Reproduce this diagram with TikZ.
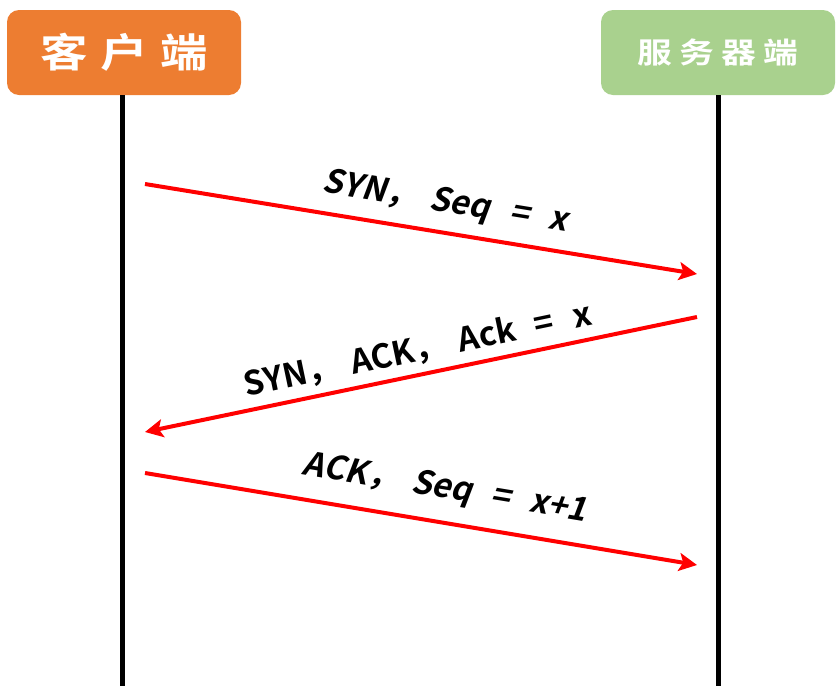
\documentclass[tikz,border=0pt]{standalone}
\usepackage{fontspec}
\setmainfont{Noto Sans CJK SC}[BoldFont=* Bold]
\newfontfamily\lblfont{Noto Sans CJK SC}[UprightFont=* Bold]
\newfontfamily\lblit{Noto Sans CJK SC}[UprightFont=* Bold,FakeSlant=0.2]
\usetikzlibrary{arrows.meta}
\definecolor{boxorange}{HTML}{ED7D31}
\definecolor{boxgreen}{HTML}{A9D18E}
\definecolor{arrred}{HTML}{FF0000}
\newcommand{\eqsp}{\hspace{0.6em}=\hspace{0.6em}}
\newcommand{\cmsp}{，\hspace{0.35em}}
\tikzset{
  headbox/.style={rounded corners=12pt, minimum width=234pt, minimum height=85pt, inner sep=0pt, text=white, font=\bfseries},
  lifeline/.style={line width=5pt, black},
  msg/.style={line width=4pt, arrred, -{Stealth[length=18pt,width=18pt,inset=4pt]}},
  msglabel/.style={inner sep=0pt, font=\lblfont\fontsize{33}{36}\selectfont},
  msglabelit/.style={inner sep=0pt, font=\lblit\fontsize{33}{36}\selectfont},
}
\begin{document}
\begin{tikzpicture}[x=1pt,y=-1pt]
\useasboundingbox (0,0) rectangle (836,686);
\node[headbox, fill=boxorange] (client) at (124,52.5) {\scalebox{1.25}[1.05]{\fontsize{38}{40}\selectfont 客\hspace{10pt}户\hspace{10pt}端}};
\node[headbox, fill=boxgreen] (server) at (718,52.5) {\scalebox{1.2}[1]{\fontsize{29}{32}\selectfont 服\hspace{6pt}务\hspace{6pt}器\hspace{6pt}端}};
\coordinate (cb) at (122,686);
\coordinate (sb) at (718,686);
\draw[lifeline] (client.south -| cb) -- (cb);
\draw[lifeline] (server.south) -- (sb);
\coordinate (c1) at (145,184);
\coordinate (s1) at (697,274);
\coordinate (s2) at (697,317);
\coordinate (c2) at (145,432);
\coordinate (c3) at (145,473);
\coordinate (s3) at (697,565);
\draw[msg] (c1) -- (s1);
\draw[msg] (s2) -- (c2);
\draw[msg] (c3) -- (s3);
\node[msglabelit, rotate=-9.3] (l1) at (445,203) {SYN\cmsp Seq\eqsp x};
\node[msglabel, rotate=11.8] (l2) at (418,350) {SYN\cmsp ACK\cmsp Ack\eqsp x};
\node[msglabelit, rotate=-9.5] (l3) at (445,489) {ACK\cmsp Seq\eqsp x+1};
\end{tikzpicture}
\end{document}
